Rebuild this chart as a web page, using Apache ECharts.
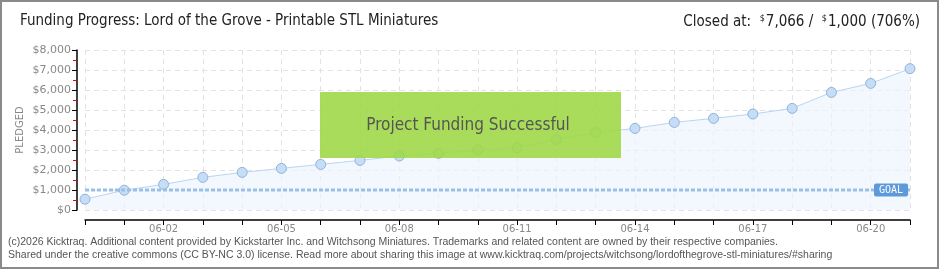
<!DOCTYPE html>
<html>
<head>
<meta charset="utf-8">
<script src="https://cdn.jsdelivr.net/npm/echarts@6/dist/echarts.min.js"></script>
<style>
html,body{margin:0;padding:0;background:#fff;}
#c{width:940px;height:270px;}
</style>
</head>
<body>
<div id="c"></div>
<script>
const categories = ['05-31','06-01','06-02','06-03','06-04','06-05','06-06','06-07','06-08','06-09','06-10','06-11','06-12','06-13','06-14','06-15','06-16','06-17','06-18','06-19','06-20','06-21'];
const pledged = [540, 990, 1280, 1630, 1880, 2080, 2280, 2480, 2700, 2830, 3000, 3120, 3530, 3870, 4080, 4380, 4580, 4800, 5080, 5880, 6330, 7066];
const goal = 1000;
const yTicks = [0, 1000, 2000, 3000, 4000, 5000, 6000, 7000, 8000];
const yName = 'PLEDGED';
const titleText = 'Funding Progress: Lord of the Grove - Printable STL Miniatures';
const footer1 = '(c)2026 Kicktraq. Additional content provided by Kickstarter Inc. and Witchsong Miniatures. Trademarks and related content are owned by their respective companies.';
const footer2 = 'Shared under the creative commons (CC BY-NC 3.0) license. Read more about sharing this image at www.kicktraq.com/projects/witchsong/lordofthegrove-stl-miniatures/#sharing';

const chart = echarts.init(document.getElementById('c'), null, {renderer: 'canvas'});
const fmt = v => '$' + v.toLocaleString('en-US');
const goalData = categories.map(() => goal);

chart.setOption({
  animation: false,
  backgroundColor: '#fff',
  grid: {left: 85, right: 30, top: 50, bottom: 60},
  xAxis: {
    type: 'category',
    data: categories,
    boundaryGap: false,
    offset: 10,
    axisLine: {onZero: false, lineStyle: {color: '#000', width: 1.5}},
    axisTick: {show: true, interval: 0, length: 5, lineStyle: {color: '#000'}},
    axisLabel: {
      interval: (i) => (i - 2) % 3 === 0,
      color: '#888', fontFamily: 'DejaVu Sans', fontSize: 10, margin: 4
    },
    splitLine: {show: true, interval: 0, lineStyle: {color: '#e2e2e2', type: [5, 4]}}
  },
  yAxis: {
    type: 'value',
    min: 0, max: 8000, interval: 1000,
    offset: 8,
    axisLine: {show: true, onZero: false, lineStyle: {color: '#000', width: 1.5}},
    axisTick: {show: true, length: 5, lineStyle: {color: '#000'}},
    minorTick: {show: true, splitNumber: 2, length: 4, lineStyle: {color: '#e00'}},
    axisLabel: {formatter: fmt, color: '#888', fontFamily: 'DejaVu Sans', fontSize: 11, margin: 6},
    splitLine: {show: true, lineStyle: {color: '#e2e2e2', type: [5, 4]}}
  },
  series: [
    {
      type: 'line',
      data: pledged,
      symbol: 'circle',
      symbolSize: 10,
      lineStyle: {color: '#b9d5f2', width: 1},
      itemStyle: {color: '#c6ddf6', borderColor: '#91b3dc', borderWidth: 1},
      areaStyle: {color: '#eef5fd'},
      z: 2
    },
    {
      type: 'line',
      data: goalData,
      symbol: 'none',
      lineStyle: {color: '#9cbfe6', width: 3, type: [4, 2]},
      z: 3,
      endLabel: {
        show: true,
        formatter: 'GOAL',
        offset: [-44, 0],
        color: '#fff',
        fontFamily: 'DejaVu Sans Mono',
        fontSize: 10,
        backgroundColor: '#5d9ad9',
        padding: [2, 5, 1, 5],
        borderRadius: 2
      }
    }
  ],
  graphic: [
    {type: 'rect', shape: {x: 1, y: 1, width: 937, height: 267}, style: {fill: 'none', stroke: '#8a8a8a', lineWidth: 2}, silent: true, z: 100},
    {type: 'text', x: 20, y: 130, rotation: Math.PI / 2, style: {
      text: yName, fill: '#888', font: '10px "DejaVu Sans"', letterSpacing: 1.5,
      align: 'center', verticalAlign: 'middle'
    }},
    {type: 'text', left: 20, top: 14, style: {text: titleText, fill: '#222', font: '15px "DejaVu Sans Condensed"'}},
    {type: 'text', right: 20, top: 14, style: {
      text: '{t|Closed at:  }{s|$}{t|7,066 /  }{s|$}{t|1,000 (706%)}',
      rich: {
        t: {fill: '#222', font: '15px "DejaVu Sans Condensed"'},
        s: {fill: '#222', font: '9px "DejaVu Sans Condensed"', verticalAlign: 'top', padding: [0, 1, 8, 0]}
      }
    }},
    {type: 'rect', shape: {x: 320, y: 92, width: 301, height: 66}, style: {fill: 'rgba(160,216,72,0.9)'}, z: 50},
    {type: 'text', x: 468, y: 126, style: {
      text: 'Project Funding Successful', fill: '#555', font: '17px "DejaVu Sans Condensed"',
      align: 'center', verticalAlign: 'middle',
      textShadowColor: '#fff', textShadowOffsetX: 1, textShadowOffsetY: 1, textShadowBlur: 0
    }, z: 51},
    {type: 'text', left: 8, top: 237, style: {text: footer1, fill: '#555', font: '10.5px "Liberation Sans"'}},
    {type: 'text', left: 8, top: 250, style: {text: footer2, fill: '#555', font: '10.5px "Liberation Sans"'}}
  ]
});
</script>
</body>
</html>
